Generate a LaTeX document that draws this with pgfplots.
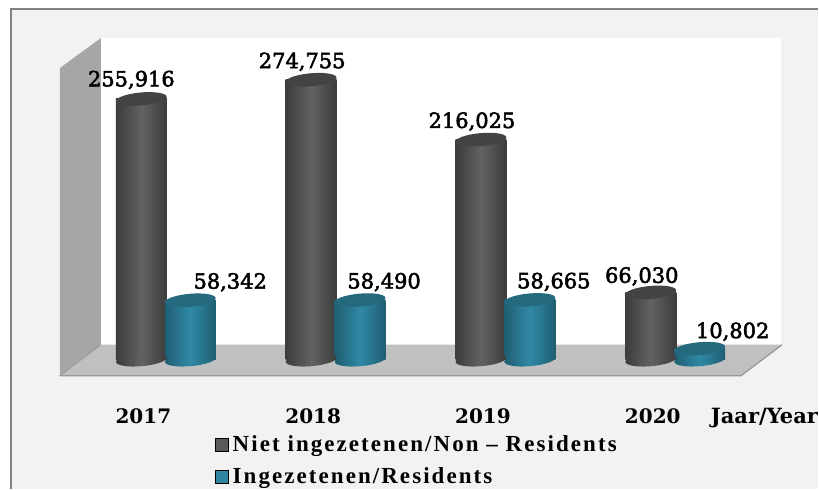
\documentclass[border=0pt]{standalone}
\usepackage{fontspec}
\usepackage{pgfplots}
\pgfplotsset{compat=1.18}
\usepackage{pgfplotstable}
\usetikzlibrary{shapes.geometric}
\setmainfont{Liberation Serif}
\newfontfamily\legfont[LetterSpace=9]{Liberation Serif}
\newfontfamily\labfont[FakeBold=2.5]{DejaVu Serif}
\newfontfamily\boldfont{DejaVu Serif}
\definecolor{frameg}{HTML}{808080}
\definecolor{bgg}{HTML}{F2F2F2}
\definecolor{wallg}{HTML}{A6A6A6}
\definecolor{floorg}{HTML}{C0C0C0}
\definecolor{edgeg}{HTML}{969696}
\definecolor{darkE}{HTML}{3C3C3C}
\definecolor{darkM}{HTML}{626262}
\definecolor{darkT}{HTML}{434343}
\definecolor{tealE}{HTML}{1F5E72}
\definecolor{tealM}{HTML}{3089A6}
\definecolor{tealT}{HTML}{25697F}
\definecolor{legG}{HTML}{595959}
\definecolor{legT}{HTML}{2E86A0}
\pgfplotstableread{
x y label dx dy
2017 255916 255,916 -10 19
2018 274755 274,755 -9 18
2019 216025 216,025 -9 18
2020 66030 66,030 -9 16
}\nonres
\pgfplotstableread{
x y label dx dy
2017.2882 58342 58,342 40 18
2018.2882 58490 58,490 24 18
2019.2882 58665 58,665 24 18
2020.2882 10802 10,802 33 17
}\res
\begin{document}
\begin{tikzpicture}
% backdrop, in the axis's own 819 x 489 frame
\fill[white] (0pt,0pt) rectangle (819pt,489pt);
\fill[bgg] (11pt,0pt) rectangle (819pt,480pt);
\draw[frameg, line width=1.8pt] (11pt,0pt) -- (11pt,480pt) -- (819pt,480pt);
\fill[white] (101pt,451pt) rectangle (782pt,143pt);
\fill[wallg] (60pt,421pt) -- (101pt,451pt) -- (101pt,144pt) -- (60pt,113pt) -- cycle;
\fill[floorg] (60pt,113pt) -- (101pt,144pt) -- (783pt,144pt) -- (742pt,113pt) -- cycle;
\draw[edgeg, line width=1.2pt] (60pt,113pt) -- (742pt,113pt) -- (783pt,144pt);
\draw[edgeg, line width=0.8pt] (60pt,113pt) -- (101pt,144pt);
\begin{axis}[
  at={(0pt,0pt)}, anchor=south west,
  width=819pt, height=489pt, scale only axis,
  xmin=2016.1676, xmax=2020.9853,
  ymin=-126470, ymax=352941,
  clip=false,
  axis line style={draw=none},
  major tick length=0pt,
  ytick=\empty,
  xtick={2017,2018,2019,2020},
  xticklabels={2017,2018,2019,2020},
  x tick label style={font=\boldfont\bfseries\fontsize{20}{24}\selectfont, yshift=72pt, xshift=2pt, anchor=center, text=black},
  legend style={draw=none, fill=none, at={(215/819,1-434/489)}, anchor=north west,
    font=\legfont\bfseries\fontsize{23}{27}\selectfont, legend cell align=left,
    row sep=10.5pt, inner sep=0pt, outer sep=0pt},
  legend columns=1,
  barstyle/.style={ybar, bar width=51pt, draw=none, forget plot},
  darkbar/.style={barstyle, left color=darkE, right color=darkE, middle color=darkM},
  tealbar/.style={barstyle, left color=tealE, right color=tealE, middle color=tealM},
  ellipse node/.style={
    only marks, mark=none, forget plot,
    nodes near coords={},
    every node near coord/.style={shape=ellipse, minimum width=51pt, minimum height=13pt,
      inner sep=0pt, anchor=center, rotate=5, draw=none, #1}},
  value labels/.style={
    only marks, mark=none, forget plot,
    point meta=explicit symbolic,
    visualization depends on={\thisrow{dx} \as \dx},
    visualization depends on={\thisrow{dy} \as \dy},
    nodes near coords,
    every node near coord/.style={anchor=center, xshift=\dx pt, yshift=\dy pt,
      inner sep=0pt, font=\labfont\fontsize{21}{25}\selectfont, text=black}},
]
% legend entries
\addlegendimage{only marks, mark=square*, mark size=6.5pt, mark options={fill=legG, draw=none}}
\addlegendentry{\hspace*{3pt}Niet ingezetenen/Non – Residents}
\addlegendimage{only marks, mark=square*, mark size=6.5pt, mark options={fill=legT, draw=none}}
\addlegendentry{\hspace*{3pt}Ingezetenen/Residents}
% non-residents
\addplot[ellipse node={left color=darkE, right color=darkE, middle color=darkM}] table[x=x, y expr=0] {\nonres};
\addplot[darkbar] coordinates {(2017,255916)};
\addplot[darkbar] coordinates {(2018,274755)};
\addplot[darkbar] coordinates {(2019,216025)};
\addplot[darkbar] coordinates {(2020,66030)};
\addplot[ellipse node={fill=darkT}] table[x=x, y=y] {\nonres};
% residents
\addplot[ellipse node={left color=tealE, right color=tealE, middle color=tealM}] table[x=x, y expr=0] {\res};
\addplot[tealbar] coordinates {(2017.2882,58342)};
\addplot[tealbar] coordinates {(2018.2882,58490)};
\addplot[tealbar] coordinates {(2019.2882,58665)};
\addplot[tealbar] coordinates {(2020.2882,10802)};
\addplot[ellipse node={fill=tealT}] table[x=x, y=y] {\res};
% value labels
\addplot[value labels] table[x=x, y=y, meta=label] {\nonres};
\addplot[value labels] table[x=x, y=y, meta=label] {\res};
\node[anchor=east, inner sep=0pt, font=\boldfont\bfseries\fontsize{21}{25}\selectfont] at (rel axis cs:1,1-418/489) {Jaar/Year};
\end{axis}
\end{tikzpicture}
\end{document}
